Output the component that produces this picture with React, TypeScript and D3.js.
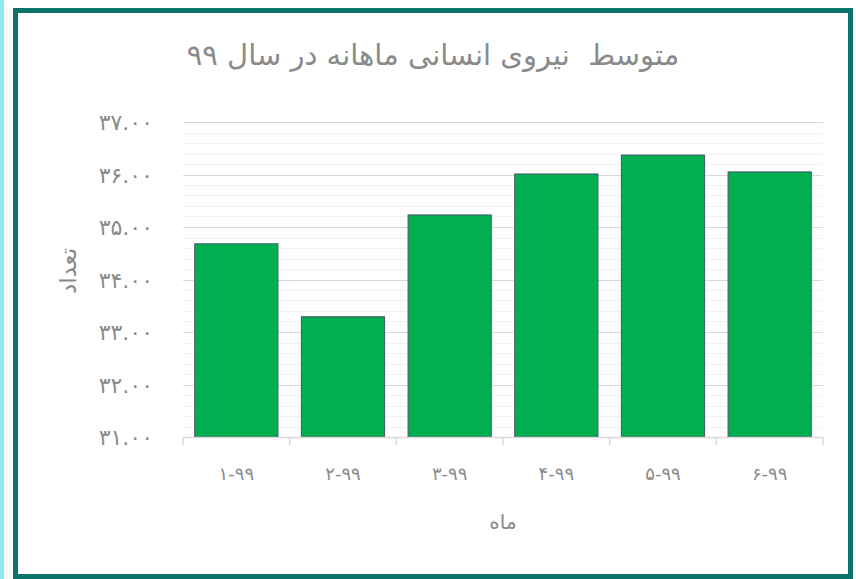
import React, { useEffect, useRef } from 'react';
import * as d3 from 'd3';

const months = ['۱-۹۹', '۲-۹۹', '۳-۹۹', '۴-۹۹', '۵-۹۹', '۶-۹۹'];
const avgStaff = [34.68, 33.29, 35.23, 36.01, 36.37, 36.05];
const yTicks = [31, 32, 33, 34, 35, 36, 37];

const title = 'متوسط  نیروی انسانی ماهانه در سال ۹۹';
const xTitle = 'ماه';
const yTitle = 'تعداد';

const faDigits = (s: string) => s.replace(/[0-9]/g, d => '۰۱۲۳۴۵۶۷۸۹'[+d]);

const App: React.FC = () => {
    const svgRef = useRef<SVGSVGElement>(null);

    useEffect(() => {
        const width = 856;
        const height = 579;
        const font = '"DejaVu Sans", sans-serif';
        const textColor = '#8a8a8a';

        const root = d3.select(svgRef.current);
        root.selectAll('*').remove();
        root.attr('width', width).attr('height', height);

        // page background + frame
        root.append('rect').attr('width', width).attr('height', height).attr('fill', '#ffffff');
        root.append('rect').attr('x', 0).attr('y', 0).attr('width', 4).attr('height', height).attr('fill', '#8ceced');
        root.append('rect')
            .attr('x', 15.5).attr('y', 10.5)
            .attr('width', 835).attr('height', 566)
            .attr('fill', '#ffffff')
            .attr('stroke', '#0b7469')
            .attr('stroke-width', 5);

        const plot = { left: 183, right: 823, top: 122, bottom: 437 };

        const x = d3.scaleBand()
            .domain(months)
            .range([plot.left, plot.right])
            .paddingInner(0.22)
            .paddingOuter(0.11);

        const y = d3.scaleLinear()
            .domain([31, 37])
            .range([plot.bottom, plot.top]);

        // minor gridlines
        root.append('g')
            .selectAll('line')
            .data(d3.range(31.2, 37, 0.2).filter(v => Math.abs(v - Math.round(v)) > 0.05))
            .enter()
            .append('line')
            .attr('x1', plot.left).attr('x2', plot.right)
            .attr('y1', d => Math.round(y(d)) + 0.5).attr('y2', d => Math.round(y(d)) + 0.5)
            .attr('stroke', '#f2f2f2')
            .attr('stroke-width', 1);

        // major gridlines
        root.append('g')
            .selectAll('line')
            .data(yTicks.slice(1))
            .enter()
            .append('line')
            .attr('x1', plot.left).attr('x2', plot.right)
            .attr('y1', d => Math.round(y(d)) + 0.5).attr('y2', d => Math.round(y(d)) + 0.5)
            .attr('stroke', '#d9d9d9')
            .attr('stroke-width', 1);

        // y tick labels
        root.append('g')
            .selectAll('text')
            .data(yTicks)
            .enter()
            .append('text')
            .attr('x', 153)
            .attr('y', d => y(d) + 8)
            .attr('text-anchor', 'end')
            .attr('font-family', font)
            .attr('font-size', 22)
            .attr('fill', textColor)
            .text(d => faDigits(d3.format('.2f')(d)));

        // bars
        root.append('g')
            .selectAll('rect')
            .data(avgStaff)
            .enter()
            .append('rect')
            .attr('x', (d, i) => (x(months[i]) || 0))
            .attr('y', d => y(d))
            .attr('width', x.bandwidth())
            .attr('height', d => plot.bottom - y(d))
            .attr('fill', '#00b050')
            .attr('stroke', '#44546a')
            .attr('stroke-width', 1);

        // x axis line + ticks
        const axis = root.append('g');
        axis.append('line')
            .attr('x1', plot.left).attr('x2', plot.right)
            .attr('y1', plot.bottom + 0.5).attr('y2', plot.bottom + 0.5)
            .attr('stroke', '#d9d9d9').attr('stroke-width', 1.5);
        axis.selectAll('line.tick')
            .data(d3.range(months.length + 1))
            .enter()
            .append('line')
            .attr('class', 'tick')
            .attr('x1', i => plot.left + i * (plot.right - plot.left) / months.length)
            .attr('x2', i => plot.left + i * (plot.right - plot.left) / months.length)
            .attr('y1', plot.bottom).attr('y2', plot.bottom + 8)
            .attr('stroke', '#d9d9d9').attr('stroke-width', 1.5);

        // x labels
        root.append('g')
            .selectAll('text')
            .data(months)
            .enter()
            .append('text')
            .attr('x', d => (x(d) || 0) + x.bandwidth() / 2)
            .attr('y', 480)
            .attr('text-anchor', 'middle')
            .attr('font-family', font)
            .attr('font-size', 18)
            .attr('fill', textColor)
            .text(d => d);

        // titles
        root.append('text')
            .attr('x', 433).attr('y', 65)
            .attr('text-anchor', 'middle')
            .attr('font-family', font)
            .attr('font-size', 29)
            .attr('fill', textColor)
            .style('white-space', 'pre')
            .text(title);

        root.append('text')
            .attr('x', 503).attr('y', 529)
            .attr('text-anchor', 'middle')
            .attr('font-family', font)
            .attr('font-size', 20)
            .attr('fill', textColor)
            .text(xTitle);

        root.append('text')
            .attr('transform', 'translate(76,271) rotate(-90)')
            .attr('text-anchor', 'middle')
            .attr('font-family', font)
            .attr('font-size', 23)
            .attr('fill', textColor)
            .text(yTitle);
    }, []);

    return <svg ref={svgRef} style={{ position: 'absolute', left: 0, top: 0 }}></svg>;
};

export default App;
